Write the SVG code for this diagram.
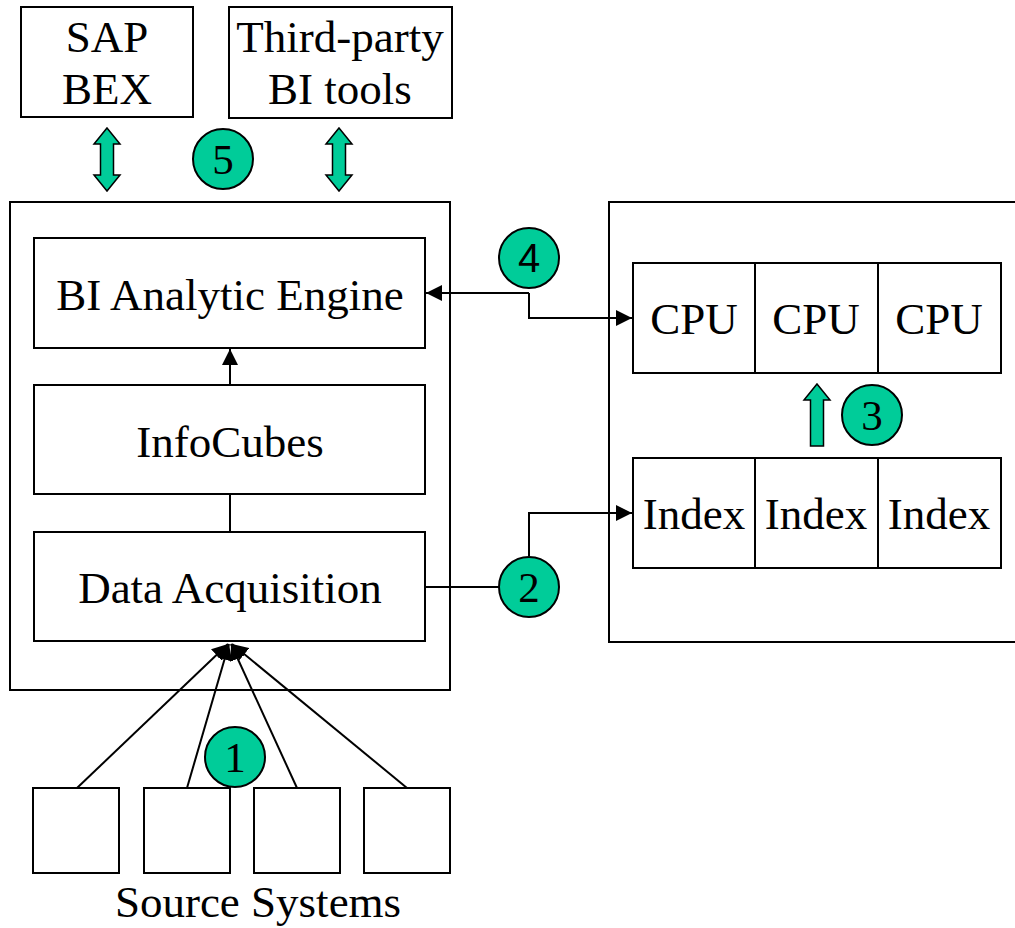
<svg xmlns="http://www.w3.org/2000/svg" width="1015" height="928" viewBox="0 0 1015 928">
<style>
.box{fill:#fff;stroke:#000;stroke-width:2}
.t{font-family:"Liberation Serif","Times New Roman",serif;font-size:45px;fill:#000;text-anchor:middle}
.n{font-family:"Liberation Serif","Times New Roman",serif;font-size:43px;fill:#000;text-anchor:middle}
.ns{font-family:"Liberation Sans",Arial,sans-serif;font-size:40px;fill:#000;text-anchor:middle}
.c{fill:#00CC99;stroke:#000;stroke-width:2}
.g{fill:#00CC99;stroke:#000;stroke-width:1.5}
.ln{fill:none;stroke:#000;stroke-width:2}
</style>
<defs>
<marker id="ahb" viewBox="0 0 10 10" refX="10" refY="5" markerWidth="16" markerHeight="16" markerUnits="userSpaceOnUse" orient="auto">
<path d="M0,0 L10,5 L0,10 Z" fill="#000"/>
</marker>
</defs>

<g id="outer-left"><rect class="box" x="10" y="202" width="440" height="488"/></g>
<g id="outer-right"><rect class="box" x="609" y="202" width="420" height="440"/></g>

<g id="sap-bex"><rect class="box" x="21" y="7" width="172" height="110"/>
<text class="t" x="107" y="52">SAP</text><text class="t" x="107" y="104">BEX</text></g>
<g id="third-party"><rect class="box" x="229" y="7" width="223" height="111"/>
<text class="t" x="340" y="52">Third-party</text><text class="t" x="340" y="104">BI tools</text></g>

<g id="bi-engine"><rect class="box" x="34" y="238" width="391" height="110"/>
<text class="t" x="230" y="310">BI Analytic Engine</text></g>
<g id="infocubes"><rect class="box" x="34" y="385" width="391" height="109"/>
<text class="t" x="230" y="457">InfoCubes</text></g>
<g id="data-acq"><rect class="box" x="34" y="532" width="391" height="109"/>
<text class="t" x="230" y="603">Data Acquisition</text></g>

<g id="cpu-row">
<rect class="box" x="633" y="263" width="122" height="110"/>
<rect class="box" x="755" y="263" width="123" height="110"/>
<rect class="box" x="878" y="263" width="123" height="110"/>
<text class="t" x="694" y="334">CPU</text><text class="t" x="816" y="334">CPU</text><text class="t" x="939" y="334">CPU</text>
</g>
<g id="index-row">
<rect class="box" x="633" y="458" width="122" height="110"/>
<rect class="box" x="755" y="458" width="123" height="110"/>
<rect class="box" x="878" y="458" width="123" height="110"/>
<text class="t" x="694" y="529">Index</text><text class="t" x="816" y="529">Index</text><text class="t" x="939" y="529">Index</text>
</g>

<g id="sources">
<rect class="box" x="33" y="788" width="86" height="85"/>
<rect class="box" x="144" y="788" width="86" height="85"/>
<rect class="box" x="254" y="788" width="86" height="85"/>
<rect class="box" x="364" y="788" width="86" height="85"/>
<text class="t" x="258" y="917">Source Systems</text>
</g>

<g id="connectors">
<line class="ln" x1="230" y1="385" x2="230" y2="349" marker-end="url(#ahb)"/>
<line class="ln" x1="230" y1="494" x2="230" y2="532"/>
<path class="ln" d="M529,293 H426" marker-end="url(#ahb)"/>
<path class="ln" d="M529,293 V318 H632" marker-end="url(#ahb)"/>
<path class="ln" d="M425,587 H500"/>
<path class="ln" d="M529,556 V513 H632" marker-end="url(#ahb)"/>
<line class="ln" x1="77" y1="788" x2="228" y2="644" marker-end="url(#ahb)"/>
<line class="ln" x1="187" y1="788" x2="229" y2="644" marker-end="url(#ahb)"/>
<line class="ln" x1="297" y1="788" x2="231" y2="644" marker-end="url(#ahb)"/>
<line class="ln" x1="407" y1="788" x2="232" y2="644" marker-end="url(#ahb)"/>
<path class="g" d="M107,128 L120,144 L113.5,144 L113.5,175 L120,175 L107,191 L94,175 L100.5,175 L100.5,144 L94,144 Z"/>
<path class="g" d="M339,128 L352,144 L345.5,144 L345.5,175 L352,175 L339,191 L326,175 L332.5,175 L332.5,144 L326,144 Z"/>
<path class="g" d="M817,384 L830,400 L823.5,400 L823.5,446 L810.5,446 L810.5,400 L804,400 Z"/>
</g>

<g id="badge-1"><circle class="c" cx="235" cy="757" r="30"/><text class="n" x="235" y="772">1</text></g>
<g id="badge-2"><circle class="c" cx="529" cy="587" r="30"/><text class="n" x="529" y="602">2</text></g>
<g id="badge-3"><circle class="c" cx="872" cy="415" r="30"/><text class="n" x="872" y="430">3</text></g>
<g id="badge-4"><circle class="c" cx="529" cy="258" r="30"/><text class="ns" x="529" y="272">4</text></g>
<g id="badge-5"><circle class="c" cx="223" cy="159" r="30"/><text class="n" x="223" y="174">5</text></g>
</svg>
